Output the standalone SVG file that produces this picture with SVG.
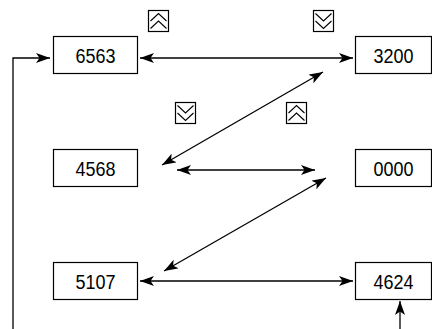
<svg xmlns="http://www.w3.org/2000/svg" width="432" height="329" viewBox="0 0 432 329">
<defs>
<marker id="ah" viewBox="0 0 14 10" refX="14" refY="5" markerWidth="14" markerHeight="10" markerUnits="userSpaceOnUse" orient="auto-start-reverse">
<path d="M0,0 L14,5 L0,10 L3.5,5 Z" fill="#000"/>
</marker>
</defs>
<style>
.box{fill:#fff;stroke:#000;stroke-width:1.2}
.lbl{font-family:"Liberation Sans",Arial,sans-serif;font-size:20px;fill:#000;text-anchor:middle;dominant-baseline:central}
.ln{fill:none;stroke:#000;stroke-width:1.3}
.mk{fill:#fff;stroke:#000;stroke-width:1.2}
.ch{fill:none;stroke:#000;stroke-width:1.1}
</style>
<g id="n6563"><rect class="box" x="53.5" y="36.5" width="84" height="37"/><text class="lbl" x="95.5" y="55.5" textLength="40" lengthAdjust="spacingAndGlyphs">6563</text></g>
<g id="n3200"><rect class="box" x="355.5" y="36.5" width="76" height="37"/><text class="lbl" x="393.5" y="55.5" textLength="40" lengthAdjust="spacingAndGlyphs">3200</text></g>
<g id="n4568"><rect class="box" x="53.5" y="149.5" width="84" height="37"/><text class="lbl" x="95.5" y="168.5" textLength="40" lengthAdjust="spacingAndGlyphs">4568</text></g>
<g id="n0000"><rect class="box" x="355.5" y="149.5" width="76" height="37"/><text class="lbl" x="393.5" y="168.5" textLength="40" lengthAdjust="spacingAndGlyphs">0000</text></g>
<g id="n5107"><rect class="box" x="53.5" y="262.5" width="84" height="37"/><text class="lbl" x="95.5" y="281.5" textLength="40" lengthAdjust="spacingAndGlyphs">5107</text></g>
<g id="n4624"><rect class="box" x="355.5" y="262.5" width="76" height="37"/><text class="lbl" x="393.5" y="281.5" textLength="40" lengthAdjust="spacingAndGlyphs">4624</text></g>
<g id="up1"><rect class="mk" x="148.5" y="10.5" width="20" height="21"/><path class="ch" d="M150.5,21 L158.5,13.5 L166.5,21 M150.5,28.5 L158.5,21 L166.5,28.5"/></g>
<g id="down1"><rect class="mk" x="313.5" y="10.5" width="20" height="21"/><path class="ch" d="M315.5,13.5 L323.5,21 L331.5,13.5 M315.5,21 L323.5,28.5 L331.5,21"/></g>
<g id="down2"><rect class="mk" x="175.5" y="102.5" width="20" height="21"/><path class="ch" d="M177.5,105.5 L185.5,113 L193.5,105.5 M177.5,113 L185.5,120.5 L193.5,113"/></g>
<g id="up2"><rect class="mk" x="286.5" y="102.5" width="20" height="21"/><path class="ch" d="M288.5,113 L296.5,105.5 L304.5,113 M288.5,120.5 L296.5,113 L304.5,120.5"/></g>
<g id="connectors">
<path class="ln" d="M13,329 L13,58 L50,58" marker-end="url(#ah)"/>
<path class="ln" d="M140,58 L353,58" marker-start="url(#ah)" marker-end="url(#ah)"/>
<path class="ln" d="M162,165 L323,72" marker-start="url(#ah)" marker-end="url(#ah)"/>
<path class="ln" d="M177,170 L315,170" marker-start="url(#ah)" marker-end="url(#ah)"/>
<path class="ln" d="M164,271 L326,178" marker-start="url(#ah)" marker-end="url(#ah)"/>
<path class="ln" d="M140,281 L353,281" marker-start="url(#ah)" marker-end="url(#ah)"/>
<path class="ln" d="M400,329 L400,301" marker-end="url(#ah)"/>
</g>
</svg>
